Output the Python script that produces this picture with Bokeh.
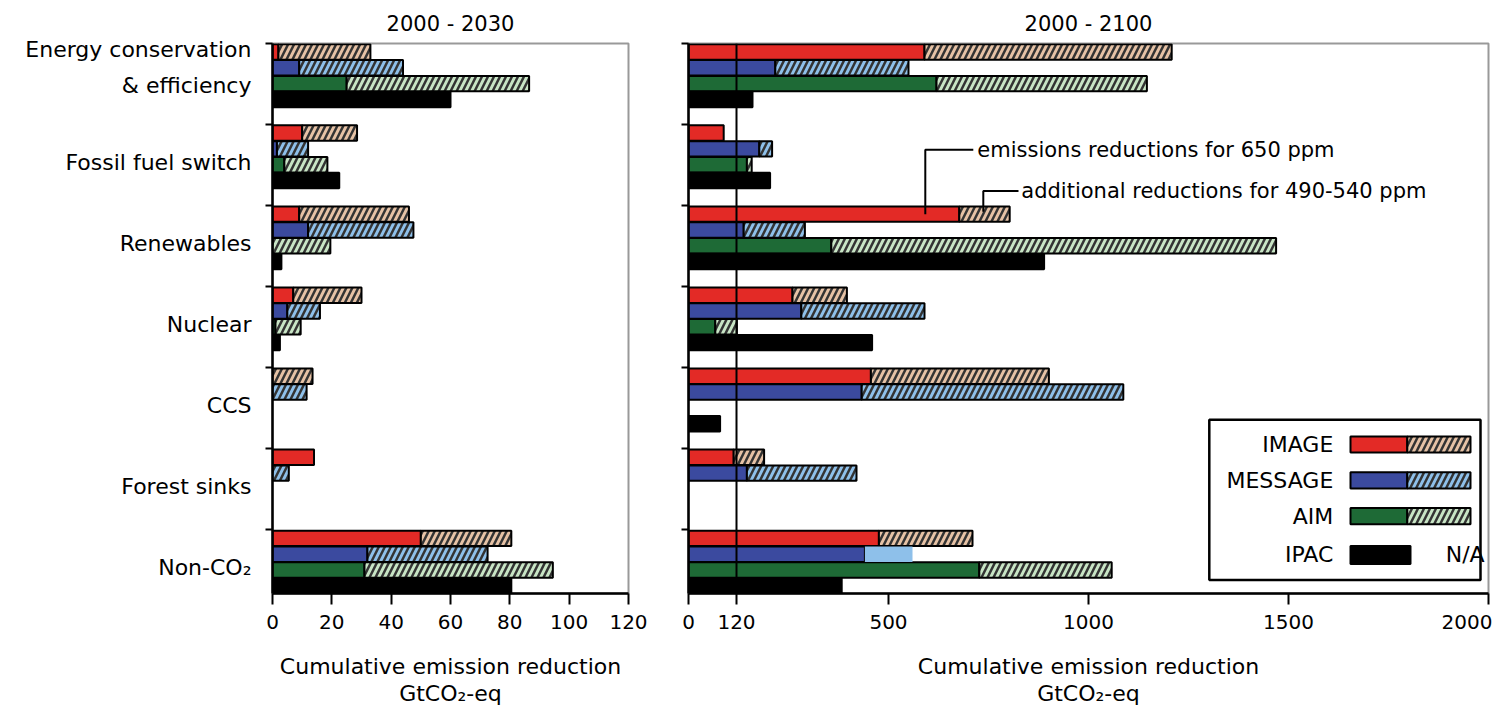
from bokeh.plotting import figure
from bokeh.models import ColumnDataSource, FixedTicker, Range1d, Span, Label, BoxAnnotation
from bokeh.layouts import row
from bokeh.embed import file_html
from bokeh.resources import INLINE

# ---------------- data ----------------
categories = ["Energy conservation\n& efficiency", "Fossil fuel switch", "Renewables",
              "Nuclear", "CCS", "Forest sinks", "Non-CO\u2082"]
models = ["IMAGE", "MESSAGE", "AIM", "IPAC"]

# 2000-2030: emissions reductions for 650 ppm (GtCO2-eq)
image_2030 = [2, 10, 9, 7, 0, 14, 50]
message_2030 = [9, 1.5, 12, 5, 0, 0, 32]
aim_2030 = [25, 4, 0, 1, 0, 0, 31]
ipac_2030 = [60, 22.5, 3, 2.5, 0, 0, 80.5]
# 2000-2030: additional reductions for 490-540 ppm
image_2030_add = [31, 18.5, 37, 23, 13.5, 0, 30.5]
message_2030_add = [35, 10.5, 35.5, 11, 11.5, 5.5, 40.5]
aim_2030_add = [61.5, 14.5, 19.5, 8.5, 0, 0, 63.5]

# 2000-2100: emissions reductions for 650 ppm
image_2100 = [590, 88, 677, 260, 456, 113, 476]
message_2100 = [217, 177, 138, 282, 433, 146, 441]
aim_2100 = [620, 146, 357, 67, 0, 0, 727]
ipac_2100 = [160, 204, 889, 459, 79, 0, 383]
# 2000-2100: additional reductions for 490-540 ppm
image_2100_add = [618, 0, 126, 136, 445, 76, 234]
message_2100_add = [333, 32, 153, 308, 654, 274, 119]
aim_2100_add = [526, 12, 1112, 54, 0, 0, 331]

x_ticks_2030 = [0, 20, 40, 60, 80, 100, 120]
x_ticks_2100 = [0, 120, 500, 1000, 1500, 2000]

# ---------------- styles ----------------
FONT = "DejaVu Sans"
TXT = "black"
BASE_COLORS = {"IMAGE": "#E32A26", "MESSAGE": "#3B4A9F", "AIM": "#1E6A36", "IPAC": "#000000"}
ADD_COLORS = {"IMAGE": "#E6C2A5", "MESSAGE": "#8EC0EA", "AIM": "#C8E5C5"}
HATCH = dict(hatch_pattern="/", hatch_color="#333333", hatch_weight=2.5, hatch_scale=12)
ROW_OFFSET = [0.105, 0.3, 0.495, 0.69]
BAR_H = 0.19
Y_BOTTOM = 6.785
FIG_H = 710
# the MESSAGE Non-CO2 addition in the 2100 panel is drawn plain (no hatch, no border)
PLAIN_ADD = {("2100", "MESSAGE", 6)}
LABEL_POS = [0.3] + [i + 0.47 for i in range(1, len(categories))]


def build_sources(base, add, panel):
    b = dict(y=[], left=[], right=[], color=[])
    h = dict(y=[], left=[], right=[], color=[])
    pl = dict(y=[], left=[], right=[], color=[])
    for k, m in enumerate(models):
        for i in range(len(categories)):
            y = i + ROW_OFFSET[k]
            v = base[m][i]
            if v > 0:
                b["y"].append(y); b["left"].append(0); b["right"].append(v); b["color"].append(BASE_COLORS[m])
            if m in add:
                a = add[m][i]
                if a > 0:
                    t = pl if (panel, m, i) in PLAIN_ADD else h
                    t["y"].append(y); t["left"].append(v); t["right"].append(v + a); t["color"].append(ADD_COLORS[m])
    return ColumnDataSource(b), ColumnDataSource(h), ColumnDataSource(pl)


def make_fig(title, width, min_left, min_right, x_end, x_ticks, show_labels):
    p = figure(width=width, height=FIG_H, x_range=Range1d(0, x_end), y_range=Range1d(Y_BOTTOM, 0),
               output_backend="svg", toolbar_location=None,
               min_border_left=min_left, min_border_right=min_right,
               min_border_top=43, min_border_bottom=FIG_H - 593)
    p.title.text = title
    p.title.align = "center"
    p.title.text_font = FONT
    p.title.text_font_size = "21px"
    p.title.text_font_style = "normal"
    p.title.text_color = TXT
    p.title.standoff = 15
    p.xgrid.visible = False
    p.ygrid.visible = False
    p.outline_line_color = "#999999"
    p.outline_line_width = 2
    p.background_fill_color = "white"

    xa = p.xaxis[0]
    xa.ticker = FixedTicker(ticks=x_ticks)
    xa.axis_label = "Cumulative emission reduction\nGtCO\u2082-eq"
    xa.axis_label_text_font = FONT
    xa.axis_label_text_font_size = "22px"
    xa.axis_label_text_font_style = "normal"
    xa.axis_label_text_color = TXT
    xa.axis_label_text_line_height = 1.1
    xa.axis_label_standoff = 22
    xa.major_label_text_font = FONT
    xa.major_label_text_font_size = "20px"
    xa.major_label_text_color = TXT
    xa.major_label_standoff = 10
    xa.major_tick_out = 11
    xa.major_tick_in = 0
    xa.major_tick_line_width = 2
    xa.minor_tick_out = 0
    xa.axis_line_width = 2.5
    xa.axis_line_color = "black"

    ya = p.yaxis[0]
    ya.axis_line_width = 2.5
    ya.axis_line_color = "black"
    ya.major_tick_out = 0
    ya.major_tick_in = 0
    ya.minor_tick_out = 7
    ya.minor_tick_in = 0
    ya.minor_tick_line_width = 2
    ya.minor_tick_line_color = "black"
    if show_labels:
        ya.ticker = FixedTicker(ticks=LABEL_POS, minor_ticks=list(range(len(categories))))
        ya.major_label_overrides = {pos: cat for pos, cat in zip(LABEL_POS, categories)}
        ya.major_label_text_font = FONT
        ya.major_label_text_font_size = "22px"
        ya.major_label_text_color = TXT
        ya.major_label_text_line_height = 1.45
        ya.major_label_standoff = 14
    else:
        ya.ticker = FixedTicker(ticks=[], minor_ticks=list(range(len(categories))))
        ya.major_label_text_font_size = "0px"
    return p


def draw_bars(p, base, add, panel):
    sb, sh, sp = build_sources(base, add, panel)
    p.hbar(y="y", left="left", right="right", height=BAR_H, source=sb,
           fill_color="color", line_color="black", line_width=2)
    p.hbar(y="y", left="left", right="right", height=BAR_H, source=sh,
           fill_color="color", line_color="black", line_width=2, **HATCH)
    p.hbar(y="y", left="left", right="right", height=BAR_H, source=sp,
           fill_color="color", line_color=None)


# ---------------- left panel ----------------
p1 = make_fig("2000 - 2030", 648, 272, 20, 120, x_ticks_2030, True)
draw_bars(p1,
          {"IMAGE": image_2030, "MESSAGE": message_2030, "AIM": aim_2030, "IPAC": ipac_2030},
          {"IMAGE": image_2030_add, "MESSAGE": message_2030_add, "AIM": aim_2030_add},
          "2030")

# ---------------- right panel ----------------
p2 = make_fig("2000 - 2100", 844, 40, 4, 2000, x_ticks_2100, False)
draw_bars(p2,
          {"IMAGE": image_2100, "MESSAGE": message_2100, "AIM": aim_2100, "IPAC": ipac_2100},
          {"IMAGE": image_2100_add, "MESSAGE": message_2100_add, "AIM": aim_2100_add},
          "2100")
p2.add_layout(Span(location=x_ticks_2100[1], dimension="height", line_color="black", line_width=2))

# callouts
ren = categories.index("Renewables")
bar_y = ren + ROW_OFFSET[0]
p2.line(x=[592, 592, 712], y=[bar_y, 1.31, 1.31], line_color="black", line_width=2)
p2.line(x=[737, 737, 825], y=[bar_y - 0.03, 1.82, 1.82], line_color="black", line_width=2)
p2.add_layout(Label(x=722, y=1.31, text="emissions reductions for 650 ppm", text_font=FONT,
                    text_font_size="21px", text_baseline="middle", text_align="left", text_color=TXT))
p2.add_layout(Label(x=832, y=1.82, text="additional reductions for 490-540 ppm", text_font=FONT,
                    text_font_size="21px", text_baseline="middle", text_align="left", text_color=TXT))

# legend (custom, split swatches)
p2.add_layout(BoxAnnotation(left=1302, right=1980, top=4.643, bottom=6.618, fill_color="white",
                            fill_alpha=1, line_color="black", line_width=2.5, line_alpha=1))
row_y = [4.947, 5.39, 5.83, 6.31]
for k, m in enumerate(models):
    yc = row_y[k]
    if m in ADD_COLORS:
        p2.add_layout(BoxAnnotation(left=1655, right=1797, top=yc - 0.1, bottom=yc + 0.1,
                                    fill_color=BASE_COLORS[m], fill_alpha=1,
                                    line_color="black", line_width=2, line_alpha=1))
        p2.add_layout(BoxAnnotation(left=1797, right=1955, top=yc - 0.1, bottom=yc + 0.1,
                                    fill_color=ADD_COLORS[m], fill_alpha=1,
                                    line_color="black", line_width=2, line_alpha=1, **HATCH))
    else:
        p2.add_layout(BoxAnnotation(left=1655, right=1805, top=yc - 0.11, bottom=yc + 0.11,
                                    fill_color=BASE_COLORS[m], fill_alpha=1,
                                    line_color="black", line_width=2, line_alpha=1))
        p2.add_layout(Label(x=1893, y=yc, text="N/A", text_font=FONT, text_font_size="22px",
                            text_baseline="middle", text_align="left", text_color=TXT))
    p2.add_layout(Label(x=1612, y=yc, text=m, text_font=FONT, text_font_size="22px",
                        text_baseline="middle", text_align="right", text_color=TXT))

layout = row(p1, p2)
open("out.html", "w").write(file_html(layout, INLINE))
